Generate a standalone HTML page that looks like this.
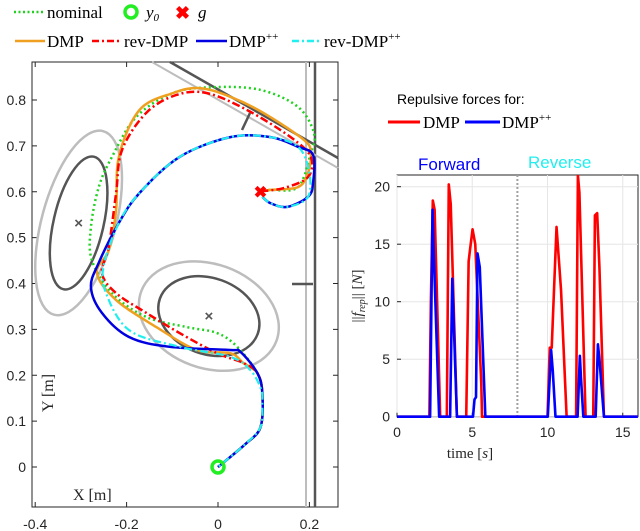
<!DOCTYPE html>
<html><head><meta charset="utf-8"><style>
body{margin:0;background:#fff;}
svg{display:block;}
.ser{font-family:"Liberation Serif",serif;}
.san{font-family:"Liberation Sans",sans-serif;}
</style></head><body>
<svg id="c" width="640" height="531" viewBox="0 0 640 531" xmlns="http://www.w3.org/2000/svg">
<g class="ser" font-size="17" fill="#000">
 <line x1="14" y1="12" x2="45" y2="12" stroke="#1fd21f" stroke-width="2.5" stroke-dasharray="2,2.5"/>
 <text x="47" y="18">nominal</text>
 <circle cx="131" cy="12" r="6" fill="none" stroke="#22ee22" stroke-width="3.5"/>
 <text x="146" y="18" font-style="italic">y<tspan font-size="11" dy="3">0</tspan></text>
 <text x="175" y="19" fill="#f00" font-size="18" font-weight="bold" class="san">✖</text>
 <text x="198" y="18" font-style="italic">g</text>
 <line x1="15" y1="41" x2="45" y2="41" stroke="#f0a020" stroke-width="2.5"/>
 <text x="47" y="47">DMP</text>
 <line x1="92" y1="41" x2="122" y2="41" stroke="#f00" stroke-width="2.5" stroke-dasharray="7,3,2,3"/>
 <text x="124" y="47">rev-DMP</text>
 <line x1="196" y1="41" x2="227" y2="41" stroke="#0000e0" stroke-width="2.5"/>
 <text x="229" y="47">DMP<tspan font-size="11" dy="-7">++</tspan></text>
 <line x1="292" y1="41" x2="322" y2="41" stroke="#20f0f0" stroke-width="2.5" stroke-dasharray="7,3,2,3"/>
 <text x="324" y="47">rev-DMP<tspan font-size="11" dy="-7">++</tspan></text>
</g>
<g id="left"></g>
<g id="right"></g>
<g>
 <text x="397" y="104" class="san" font-size="14">Repulsive forces for:</text>
 <line x1="388" y1="122" x2="420" y2="122" stroke="#f00" stroke-width="3"/>
 <text x="423" y="128" class="ser" font-size="17">DMP</text>
 <line x1="465" y1="122" x2="500" y2="122" stroke="#00f" stroke-width="3"/>
 <text x="502" y="128" class="ser" font-size="17">DMP<tspan font-size="11" dy="-7">++</tspan></text>
 <text x="418" y="170" class="san" font-size="17" fill="#0000ff">Forward</text>
 <text x="528" y="168" class="san" font-size="17" fill="#22eeee">Reverse</text>
</g>
</svg>
<script>
// ---------- Left plot data ----------
const xTicksL = [-0.4, -0.2, 0, 0.2];
const xTickLabelsL = ["-0.4", "-0.2", "0", "0.2"];
const yTicksL = [0, 0.1, 0.2, 0.3, 0.4, 0.5, 0.6, 0.7, 0.8];
const yTickLabelsL = ["0", "0.1", "0.2", "0.3", "0.4", "0.5", "0.6", "0.7", "0.8"];
const startPt = [0, 0];
const goalPt = [0.093, 0.601];
const obstacleCenters = [[-0.305, 0.532], [-0.02, 0.329]];
const nominalX = [0, 0.06, 0.093, 0.097, 0.086, 0.042, -0.002, -0.068, -0.157, -0.232, -0.276, -0.278, -0.261, -0.232, -0.179, -0.099, -0.011, 0.093, 0.175, 0.210, 0.203, 0.175, 0.115, 0.093];
const nominalY = [0, 0.05, 0.087, 0.161, 0.205, 0.262, 0.292, 0.305, 0.327, 0.379, 0.451, 0.523, 0.610, 0.676, 0.763, 0.815, 0.828, 0.822, 0.785, 0.728, 0.684, 0.610, 0.604, 0.601];
const dmpX = [0, 0.06, 0.093, 0.097, 0.086, 0.055, 0.027, -0.046, -0.135, -0.223, -0.265, -0.239, -0.223, -0.217, -0.172, -0.099, -0.04, 0.027, 0.099, 0.188, 0.203, 0.197, 0.175, 0.115, 0.093];
const dmpY = [0, 0.05, 0.087, 0.161, 0.205, 0.227, 0.248, 0.255, 0.305, 0.364, 0.423, 0.473, 0.560, 0.676, 0.778, 0.815, 0.826, 0.807, 0.772, 0.713, 0.684, 0.641, 0.610, 0.604, 0.601];
const revDmpX = [0.093, 0.144, 0.197, 0.203, 0.159, 0.064, -0.024, -0.091, -0.157, -0.210, -0.223, -0.239, -0.254, -0.223, -0.157, -0.084, -0.002, 0.055, 0.086, 0.097, 0.093, 0.06, 0];
const revDmpY = [0.601, 0.608, 0.632, 0.676, 0.719, 0.778, 0.815, 0.811, 0.772, 0.691, 0.597, 0.480, 0.423, 0.379, 0.336, 0.292, 0.248, 0.227, 0.205, 0.161, 0.087, 0.05, 0];
const dmpppX = [0, 0.06, 0.093, 0.097, 0.086, 0.049, 0.027, -0.106, -0.194, -0.254, -0.278, -0.261, -0.217, -0.172, -0.084, 0.027, 0.115, 0.175, 0.208, 0.208, 0.197, 0.152, 0.115, 0.097];
const dmpppY = [0, 0.05, 0.087, 0.161, 0.205, 0.251, 0.255, 0.262, 0.283, 0.336, 0.392, 0.445, 0.532, 0.597, 0.676, 0.719, 0.719, 0.698, 0.680, 0.619, 0.589, 0.567, 0.575, 0.589];
const revDmpppX = [0.097, 0.115, 0.152, 0.197, 0.199, 0.175, 0.115, 0.027, -0.084, -0.172, -0.217, -0.250, -0.245, -0.194, -0.084, 0.027, 0.071, 0.094, 0.097, 0.093, 0.06, 0];
const revDmpppY = [0.589, 0.575, 0.567, 0.589, 0.647, 0.698, 0.719, 0.719, 0.676, 0.597, 0.532, 0.440, 0.379, 0.298, 0.262, 0.240, 0.211, 0.170, 0.140, 0.087, 0.05, 0];

// ---------- Right plot data ----------
const xTicksR = [0, 5, 10, 15];
const yTicksR = [0, 5, 10, 15, 20];
const dividerTime = [8];
const redT = [0, 2.15, 2.25, 2.38, 2.5, 2.87, 3.31, 3.44, 3.57, 3.98, 4.6, 4.76, 4.85, 5.02, 5.2, 5.6, 5.65, 10.0, 10.15, 10.28, 10.6, 10.9, 11.27, 11.9, 12.02, 12.12, 12.53, 13.04, 13.15, 13.3, 13.45, 13.75, 16];
const redV = [0, 0, 10, 18.8, 18, 0, 0, 20.2, 18.5, 0, 0, 13.5, 14.5, 16.3, 15, 2.9, 0, 0, 6, 6, 16.5, 11, 0, 0, 21, 19.5, 0, 0, 17.5, 17.7, 13, 0, 0];
const blueT = [0, 2.2, 2.36, 2.45, 2.8, 3.53, 3.67, 3.75, 3.98, 5.05, 5.15, 5.25, 5.35, 5.5, 5.87, 10.02, 10.24, 10.35, 10.53, 12.0, 12.15, 12.22, 12.38, 13.2, 13.35, 13.45, 13.75, 16];
const blueV = [0, 0, 18, 14, 0, 0, 12, 9, 0, 0, 1.5, 1.7, 14.2, 13, 0, 0, 5.8, 4, 0, 0, 5.3, 3.5, 0, 0, 6.3, 5, 0, 0];

const NS = "http://www.w3.org/2000/svg";
function mk(parent, tag, attrs) { const e = document.createElementNS(NS, tag); for (const k in attrs) e.setAttribute(k, attrs[k]); parent.appendChild(e); return e; }

// left axes
const L = document.getElementById('left');
const lx = v => 218 + v * 457;
const ly = v => 467 - v * 458.75;
const LB = {x0: 32, x1: 338, y0: 62, y1: 507};

function smooth(xs, ys) {
  const p = xs.map((x, i) => [lx(x), ly(ys[i])]);
  let d = `M${p[0][0]},${p[0][1]}`;
  for (let i = 0; i < p.length - 1; i++) {
    const p0 = p[Math.max(0, i - 1)], p1 = p[i], p2 = p[i + 1], p3 = p[Math.min(p.length - 1, i + 2)];
    const c1 = [p1[0] + (p2[0] - p0[0]) / 6, p1[1] + (p2[1] - p0[1]) / 6];
    const c2 = [p2[0] - (p3[0] - p1[0]) / 6, p2[1] - (p3[1] - p1[1]) / 6];
    d += ` C${c1[0]},${c1[1]} ${c2[0]},${c2[1]} ${p2[0]},${p2[1]}`;
  }
  return d;
}

let e;
e = mk(L, 'rect', {x: LB.x0, y: LB.y0, width: LB.x1 - LB.x0, height: LB.y1 - LB.y0, fill: '#fff', stroke: '#262626', 'stroke-width': 1});


xTicksL.forEach((t, i) => {
  const x = lx(t);
  e = mk(L, 'line', {x1: x, y1: LB.y1, x2: x, y2: LB.y1 - 5, stroke: '#262626'});
  
  
  mk(L, 'line', {x1: x, y1: LB.y0, x2: x, y2: LB.y0 + 5, stroke: '#262626'});
  e = mk(L, 'text', {x: x, y: 529, 'text-anchor': 'middle', 'font-size': 14, class: 'san', fill: '#262626'});
  e.textContent = xTickLabelsL[i];
  
  
});
yTicksL.forEach((t, i) => {
  const y = ly(t);
  e = mk(L, 'line', {x1: LB.x0, y1: y, x2: LB.x0 + 5, y2: y, stroke: '#262626'});
  
  
  mk(L, 'line', {x1: LB.x1, y1: y, x2: LB.x1 - 5, y2: y, stroke: '#262626'});
  e = mk(L, 'text', {x: 26, y: y + 5, 'text-anchor': 'end', 'font-size': 14, class: 'san', fill: '#262626'});
  e.textContent = yTickLabelsL[i];
  
  
});
e = mk(L, 'text', {x: 73, y: 500, 'font-size': 16, class: 'ser', fill: '#262626'});
e.textContent = 'X [m]';


e = mk(L, 'text', {x: 0, y: 0, 'font-size': 16, class: 'ser', fill: '#262626', transform: 'translate(53,412) rotate(-90)'});
e.textContent = 'Y [m]';



// walls
const walls = [
  [306, 62, 306, 507, '#bdbdbd', 2], [315, 62, 315, 507, '#555', 2.5],
  [152, 62, 338, 168, '#bdbdbd', 2], [170, 62, 338, 158, '#555', 2.5],
  [242, 130, 250, 113, '#555', 2.5], [292, 284, 313, 284, '#555', 2.5]
];
walls.forEach(w => {
  e = mk(L, 'line', {x1: w[0], y1: w[1], x2: w[2], y2: w[3], stroke: w[4], 'stroke-width': w[5]});
  
  
});
// obstacles
const ell = [[0, 37, 95, 15, '#bdbdbd'], [0, 25, 68, 13, '#555'], [1, 72, 52, 20, '#bdbdbd'], [1, 52, 38, 20, '#555']];
ell.forEach(o => {
  const c = obstacleCenters[o[0]];
  e = mk(L, 'ellipse', {cx: 0, cy: 0, rx: o[1], ry: o[2], fill: 'none', stroke: o[4], 'stroke-width': 2.5, transform: `translate(${lx(c[0])},${ly(c[1])}) rotate(${o[3]})`});
  
  
});
obstacleCenters.forEach(c => {
  e = mk(L, 'text', {x: lx(c[0]), y: ly(c[1]) + 5, 'text-anchor': 'middle', 'font-size': 15, fill: '#555', class: 'san', 'font-weight': 'bold'});
  e.textContent = '×';
  
  
});
// trajectories
const series = [
  [nominalX, nominalY, '#1fd21f', 2.5, '2,3', 'nominal-trajectory'],
  [dmpX, dmpY, '#f0a020', 2.5, '', 'dmp-trajectory'],
  [revDmpX, revDmpY, '#f00', 2.5, '8,3,2,3', 'rev-dmp-trajectory'],
  [dmpppX, dmpppY, '#0000e0', 2.5, '', 'dmppp-trajectory'],
  [revDmpppX, revDmpppY, '#22eeee', 2.2, '8,3,2,3', 'rev-dmppp-trajectory']
];
series.forEach(s => {
  const a = {d: smooth(s[0], s[1]), fill: 'none', stroke: s[2], 'stroke-width': s[3]};
  if (s[4]) a['stroke-dasharray'] = s[4];
  e = mk(L, 'path', a);
  
  
});
e = mk(L, 'circle', {cx: lx(startPt[0]), cy: ly(startPt[1]), r: 6, fill: 'none', stroke: '#22ee22', 'stroke-width': 3.5});


e = mk(L, 'text', {x: lx(goalPt[0]), y: ly(goalPt[1]) + 6, 'text-anchor': 'middle', 'font-size': 16, fill: '#f00', class: 'san', 'font-weight': 'bold'});
e.textContent = '✖';



// right axes
const R = document.getElementById('right');
const rx = v => 397 + v * 15.05;
const ry = v => 416.7 - v * 11.5;
const RB = {x0: 397, x1: 638, y0: 175, y1: 416.7};
e = mk(R, 'rect', {x: RB.x0, y: RB.y0, width: RB.x1 - RB.x0, height: RB.y1 - RB.y0, fill: '#fff', stroke: '#262626', 'stroke-width': 1});


xTicksR.forEach(t => {
  const x = rx(t);
  e = mk(R, 'line', {x1: x, y1: RB.y0, x2: x, y2: RB.y1, stroke: '#e6e6e6'});
  
  
  mk(R, 'line', {x1: x, y1: RB.y1, x2: x, y2: RB.y1 - 4, stroke: '#262626'});
  e = mk(R, 'text', {x: x, y: 437, 'text-anchor': 'middle', 'font-size': 14, class: 'san', fill: '#262626'});
  e.textContent = String(t);
  
  
});
yTicksR.forEach(t => {
  const y = ry(t);
  e = mk(R, 'line', {x1: RB.x0, y1: y, x2: RB.x1, y2: y, stroke: '#e6e6e6'});
  
  
  mk(R, 'line', {x1: RB.x0, y1: y, x2: RB.x0 + 4, y2: y, stroke: '#262626'});
  e = mk(R, 'text', {x: 390, y: y + 5, 'text-anchor': 'end', 'font-size': 14, class: 'san', fill: '#262626'});
  e.textContent = String(t);
  
  
});
e = mk(R, 'line', {x1: rx(dividerTime[0]), y1: RB.y0, x2: rx(dividerTime[0]), y2: RB.y1, stroke: '#a0a0a0', 'stroke-width': 2, 'stroke-dasharray': '2,2'});


e = mk(R, 'text', {x: 470, y: 458, 'text-anchor': 'middle', 'font-size': 15, class: 'ser', fill: '#262626'});
e.innerHTML = 'time [<tspan font-style="italic">s</tspan>]';


e = mk(R, 'text', {x: 0, y: 0, 'font-size': 15, class: 'ser', fill: '#262626', 'text-anchor': 'middle', transform: 'translate(362,296) rotate(-90)'});
e.innerHTML = '||<tspan font-style="italic">f</tspan><tspan font-size="10" dy="3" font-style="italic">rep</tspan><tspan dy="-3">|| [</tspan><tspan font-style="italic">N</tspan>]';


const clip = mk(R, 'clipPath', {id: 'rc'});
mk(clip, 'rect', {x: RB.x0, y: RB.y0, width: RB.x1 - RB.x0, height: RB.y1 - RB.y0 + 2});
[[redT, redV, '#f00', 'dmp-force-line'], [blueT, blueV, '#00f', 'dmppp-force-line']].forEach(s => {
  const pts = s[0].map((t, i) => `${rx(t)},${ry(s[1][i])}`).join(' ');
  e = mk(R, 'polyline', {points: pts, fill: 'none', stroke: s[2], 'stroke-width': 2.6, 'stroke-linejoin': 'round', 'clip-path': 'url(#rc)'});
  
  
});
</script>
</body></html>
